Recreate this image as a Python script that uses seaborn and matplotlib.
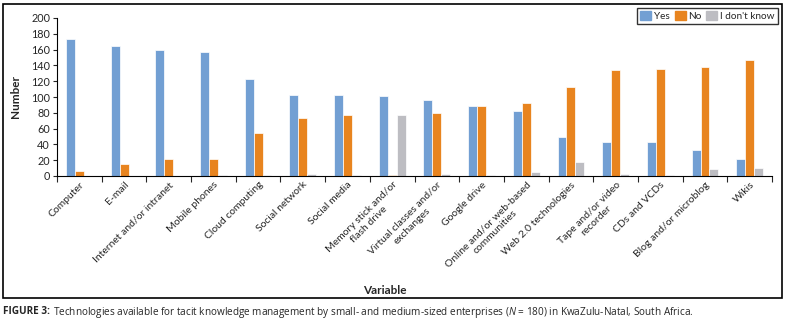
import pandas as pd
import matplotlib.pyplot as plt
import matplotlib.patches as mpatches
import seaborn as sns

categories = ["Computer", "E-mail", "Internet and/or intranet", "Mobile phones",
              "Cloud computing", "Social network", "Social media",
              "Memory stick and/or\nflash drive", "Virtual classes and/or\nexchanges",
              "Google drive", "Online and/or web-based\ncommunities",
              "Web 2.0 technologies", "Tape and/or video\nrecorder", "CDs and VCDs",
              "Blog and/or microblog", "Wikis"]
yes = [173, 165, 159, 157, 123, 103, 102, 101, 96, 89, 82, 49, 43, 43, 33, 22]
no = [6, 15, 21, 22, 55, 74, 77, 1, 80, 89, 92, 113, 134, 135, 138, 147]
dont_know = [0, 0, 0, 1, 1, 3, 1, 77, 3, 1, 5, 18, 2, 1, 9, 10]
answers = ["Yes", "No", "I don't know"]
colors = ["#729FD3", "#E8841F", "#BDBDC2"]

rows = []
for ans, vals in zip(answers, [yes, no, dont_know]):
    for cat, v in zip(categories, vals):
        rows.append({"Variable": cat, "Answer": ans, "Number": v})
df = pd.DataFrame(rows)

sns.set_style("ticks")
plt.rcParams['font.family'] = ['Lato', 'DejaVu Sans']
plt.rcParams['mathtext.fontset'] = 'custom'
plt.rcParams['mathtext.it'] = 'Open Sans:italic'
plt.rcParams['mathtext.rm'] = 'Open Sans'

fig = plt.figure(figsize=(7.89, 3.28), dpi=100)
ax = fig.add_axes([57 / 789, 1 - 176 / 328, 715 / 789, 158 / 328])

sns.barplot(data=df, x="Variable", y="Number", hue="Answer", order=categories,
            hue_order=answers, palette=colors, width=0.6, ax=ax,
            edgecolor="white", linewidth=0.5, saturation=1)

ax.set_xlim(-0.5, len(categories) - 0.5)
ax.set_ylim(0, 200)
ax.set_yticks(range(0, 201, 20))
ax.tick_params(axis='y', labelsize=7.8, length=3, width=0.8, pad=2)
ax.tick_params(axis='x', which='major', length=0, labelsize=7.5, pad=3)
ax.set_xticks([i + 0.5 for i in range(-1, len(categories))], minor=True)
ax.tick_params(axis='x', which='minor', length=4.5, width=0.8)
for lab in ax.get_xticklabels():
    lab.set_rotation(45)
    lab.set_ha('right')
    lab.set_rotation_mode('anchor')
    lab.set_multialignment('center')
sns.despine(ax=ax)
for s in ['left', 'bottom']:
    ax.spines[s].set_linewidth(0.8)
    ax.spines[s].set_color('black')

ax.set_ylabel("Number", fontsize=8.5, fontweight='bold')
ax.yaxis.set_label_coords(-0.05, 0.5)
ax.set_xlabel("Variable", fontsize=8.5, fontweight='bold')
ax.xaxis.set_label_coords(0.459, -0.69)

handles = [mpatches.Patch(color=c, label=a) for c, a in zip(colors, answers)]
ax.get_legend().remove()
leg = fig.legend(handles=handles, loc='upper right', bbox_to_anchor=(0.986, 0.976),
                 ncol=3, fontsize=7.2, frameon=True, fancybox=False, edgecolor='black',
                 handlelength=1.1, handleheight=1.1, handletextpad=0.3,
                 columnspacing=0.45, borderpad=0.3, borderaxespad=0)
leg.get_frame().set_linewidth(1.0)

fig.patches.append(mpatches.Rectangle((3 / 789, 1 - 298 / 328), 779 / 789, 294 / 328,
                                      transform=fig.transFigure, fill=False,
                                      edgecolor='black', linewidth=1.2))

# caption: bold label followed by normal text
cap_y = 1 - 312 / 328
t1 = fig.text(3 / 789, cap_y, "FIGURE 3:", fontsize=7.2, family='Open Sans',
              fontweight='bold', va='center', ha='left')
fig.canvas.draw()
bb = t1.get_window_extent(fig.canvas.get_renderer())
fig.text(bb.x1 / fig.bbox.width + 3 / 789, cap_y,
         r"Technologies available for tacit knowledge management by "
         r"small- and medium-sized enterprises ($N$ = 180) in KwaZulu-Natal, South Africa.",
         fontsize=7.2, family='Open Sans', va='center', ha='left')

fig.savefig("out.png", dpi=100)
